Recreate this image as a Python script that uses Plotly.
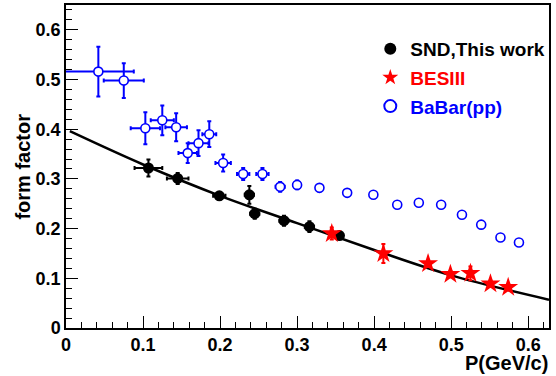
import plotly.graph_objects as go

# SND, this work
snd_x = [0.107, 0.145, 0.199, 0.238, 0.245, 0.283, 0.316, 0.355]
snd_y = [0.322, 0.301, 0.266, 0.268, 0.230, 0.216, 0.204, 0.186]
snd_xerr = [0.018, 0.014, 0.008, 0.006, 0.006, 0.006, 0.006, 0.004]
snd_yerr = [0.017, 0.011, 0.007, 0.018, 0.010, 0.010, 0.011, 0.006]

# BESIII
bes_x = [0.345, 0.412, 0.470, 0.499, 0.525, 0.551, 0.574]
bes_y = [0.190, 0.150, 0.130, 0.108, 0.110, 0.089, 0.082]
bes_yerr = [0.012, 0.019, 0.007, 0.006, 0.014, 0.006, 0.006]

# BaBar (pp)
bab_x = [0.042, 0.075, 0.103, 0.125, 0.143, 0.158, 0.172, 0.186, 0.204, 0.230,
         0.255, 0.278, 0.300, 0.329, 0.365, 0.399, 0.430, 0.458, 0.487, 0.514,
         0.539, 0.564, 0.588]
bab_y = [0.516, 0.498, 0.402, 0.418, 0.404, 0.352, 0.372, 0.390, 0.332, 0.310,
         0.310, 0.284, 0.288, 0.282, 0.272, 0.268, 0.248, 0.252, 0.248, 0.228,
         0.208, 0.182, 0.172]
bab_xerr = [0.046, 0.026, 0.019, 0.015, 0.014, 0.012, 0.013, 0.009, 0.010, 0.008,
            0.008, 0.006, 0.005, 0.003, 0, 0, 0, 0, 0, 0, 0, 0, 0]
bab_yerr = [0.050, 0.035, 0.032, 0.030, 0.028, 0.020, 0.026, 0.026, 0.017, 0.012,
            0.012, 0.010, 0.009, 0.007, 0.006, 0.006, 0.006, 0.006, 0.006, 0.006,
            0.006, 0.006, 0.006]

# fit curve
fit_x = [0.005, 0.1, 0.2, 0.3, 0.4, 0.5, 0.627]
fit_y = [0.396, 0.329, 0.266, 0.211, 0.157, 0.106, 0.057]

xticks = [0, 0.1, 0.2, 0.3, 0.4, 0.5, 0.6]
yticks = [0, 0.1, 0.2, 0.3, 0.4, 0.5, 0.6]

FONT = "Liberation Sans"

fig = go.Figure()

fig.add_trace(go.Scatter(
    x=fit_x, y=fit_y, mode="lines", line=dict(color="black", width=2.5, shape="spline"),
    showlegend=False, hoverinfo="skip"))

fig.add_trace(go.Scatter(
    x=bab_x, y=bab_y, mode="markers",
    name="<span style='color:blue'><b>BaBar(pp)</b></span>",
    marker=dict(symbol="circle", size=9, color="white", line=dict(color="blue", width=1.6)),
    error_x=dict(type="data", array=bab_xerr, color="blue", thickness=2, width=2),
    error_y=dict(type="data", array=bab_yerr, color="blue", thickness=2, width=2),
    legendrank=3, legendgroup="c"))

fig.add_trace(go.Scatter(
    x=snd_x, y=snd_y, mode="markers",
    name="<span style='color:black'><b>SND,This work</b></span>",
    marker=dict(symbol="circle", size=11, color="black"),
    error_x=dict(type="data", array=snd_xerr, color="black", thickness=2, width=2),
    error_y=dict(type="data", array=snd_yerr, color="black", thickness=2, width=2),
    legendrank=1, legendgroup="a"))

fig.add_trace(go.Scatter(
    x=bes_x, y=bes_y, mode="markers",
    name="<span style='color:red'><b>BESIII</b></span>",
    marker=dict(symbol="star", size=15, color="red"),
    error_y=dict(type="data", array=bes_yerr, color="red", thickness=2, width=2),
    legendrank=2, legendgroup="b"))

axis_common = dict(
    showline=True, linecolor="black", linewidth=1.5, mirror=True,
    ticks="inside", ticklen=12, tickwidth=1, tickcolor="black",
    showgrid=False, zeroline=False,
    tickfont=dict(family=FONT, size=18, color="black", weight="bold"),
    minor=dict(ticks="inside", ticklen=6, dtick=0.02, tickcolor="black", tickwidth=1, showgrid=False),
)

fig.update_xaxes(range=[0, 0.627], tickvals=xticks, ticktext=[f"{v:g}" for v in xticks], **axis_common)
fig.update_yaxes(range=[0, 0.65], tickvals=yticks, ticktext=[f"{v:g}" for v in yticks], **axis_common)

fig.add_annotation(text="<b>P(GeV/c)</b>", xref="paper", yref="paper", x=1.002, y=-0.109,
                   xanchor="right", yanchor="middle", showarrow=False,
                   font=dict(family=FONT, size=20, color="black"))
fig.add_annotation(text="<b>form factor</b>", xref="paper", yref="paper", x=-0.091, y=0.5,
                   xanchor="center", yanchor="middle", textangle=-90, showarrow=False,
                   font=dict(family=FONT, size=20, color="black"))

fig.update_layout(
    width=556, height=376,
    margin=dict(l=66, r=7, t=3, b=48),
    paper_bgcolor="white", plot_bgcolor="white",
    showlegend=True,
    legend=dict(x=0.63, y=0.923, xanchor="left", yanchor="top",
                bgcolor="rgba(0,0,0,0)", borderwidth=0,
                font=dict(family=FONT, size=19, color="black"),
                tracegroupgap=1, itemsizing="constant"),
)

fig.write_html("out.html", config={"displayModeBar": False},
               post_script="document.body.style.margin='0';")
